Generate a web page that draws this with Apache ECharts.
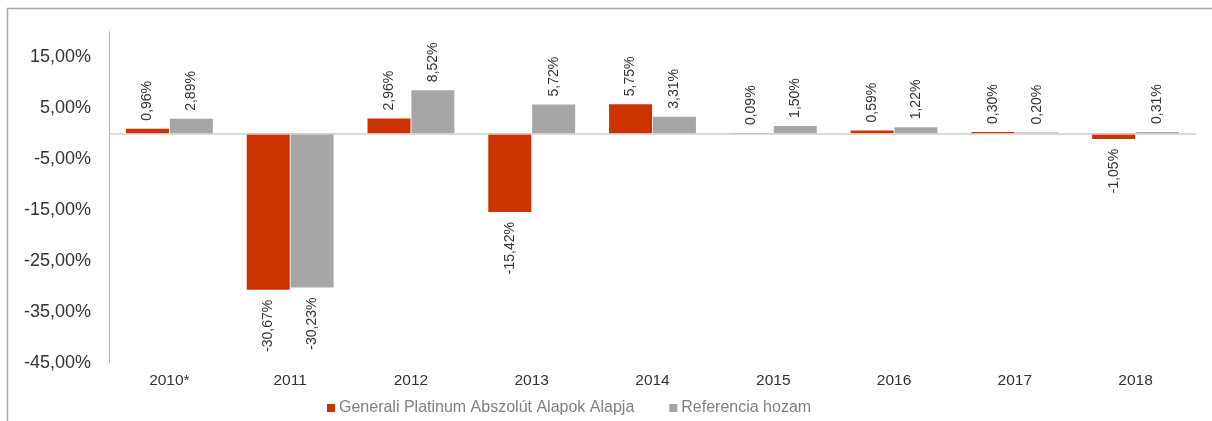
<!DOCTYPE html>
<html>
<head>
<meta charset="utf-8">
<script src="https://cdn.jsdelivr.net/npm/echarts@6/dist/echarts.min.js"></script>
<style>
html,body{margin:0;padding:0;background:#fff;}
#chart{width:1212px;height:421px;}
</style>
</head>
<body>
<div id="chart"></div>
<script>
const categories = ['2010*','2011','2012','2013','2014','2015','2016','2017','2018'];
const fundName = 'Generali Platinum Abszolút Alapok Alapja';
const refName = 'Referencia hozam';
const fundValues = [0.96, -30.67, 2.96, -15.42, 5.75, 0.09, 0.59, 0.30, -1.05];
const refValues = [2.89, -30.23, 8.52, 5.72, 3.31, 1.50, 1.22, 0.20, 0.31];
const yTicks = [-45, -35, -25, -15, -5, 5, 15];

const fmt = v => v.toFixed(2).replace('.', ',') + '%';

function withLabels(values) {
  return values.map(v => ({
    value: v,
    label: v >= 0
      ? {position: 'top', align: 'left', verticalAlign: 'middle', distance: 8}
      : {position: 'bottom', align: 'right', verticalAlign: 'middle', distance: 10}
  }));
}

const labelStyle = {
  show: true,
  rotate: 90,
  fontFamily: '"Liberation Sans", Arial, sans-serif',
  fontSize: 14,
  color: '#333',
  formatter: p => fmt(p.value)
};

const chart = echarts.init(document.getElementById('chart'), null, {renderer: 'canvas'});
chart.setOption({
  animation: false,
  textStyle: {fontFamily: '"Liberation Sans", Arial, sans-serif'},
  graphic: [{
    type: 'rect',
    shape: {x: 7.5, y: 8.5, width: 1400, height: 600},
    style: {fill: 'none', stroke: '#a6a6a6', lineWidth: 1.5},
    silent: true, z: -1
  }],
  grid: {left: 109, right: 16, top: 31.7, bottom: 58.3, containLabel: false},
  legend: {
    left: 322, top: 395,
    itemWidth: 8, itemHeight: 8, itemGap: 35,
    icon: 'rect',
    textStyle: {color: '#808080', fontSize: 16, padding: [0, 0, 0, -1]},
    data: [fundName, refName]
  },
  xAxis: {
    type: 'category',
    data: categories,
    axisLine: {show: false},
    axisTick: {show: false},
    axisLabel: {color: '#333', fontSize: 15.5, margin: 10}
  },
  yAxis: {
    type: 'value',
    min: -45, max: 20, interval: 10,
    axisLine: {show: true, lineStyle: {color: '#b0b0b0', width: 1}},
    axisTick: {show: false},
    splitLine: {show: false},
    axisLabel: {
      color: '#333', fontSize: 18, margin: 18,
      formatter: v => yTicks.includes(v) ? fmt(v) : ''
    }
  },
  series: [
    {
      name: fundName, type: 'bar', data: withLabels(fundValues),
      barWidth: 43, barGap: '2%',
      itemStyle: {color: '#cc3300'},
      label: labelStyle,
      markLine: {
        silent: true, symbol: 'none',
        label: {show: false},
        lineStyle: {color: '#d0d0d0', type: 'solid', width: 1.5},
        data: [{yAxis: 0}]
      }
    },
    {
      name: refName, type: 'bar', data: withLabels(refValues),
      barWidth: 43,
      itemStyle: {color: '#a6a6a6'},
      label: labelStyle
    }
  ]
});
</script>
</body>
</html>
